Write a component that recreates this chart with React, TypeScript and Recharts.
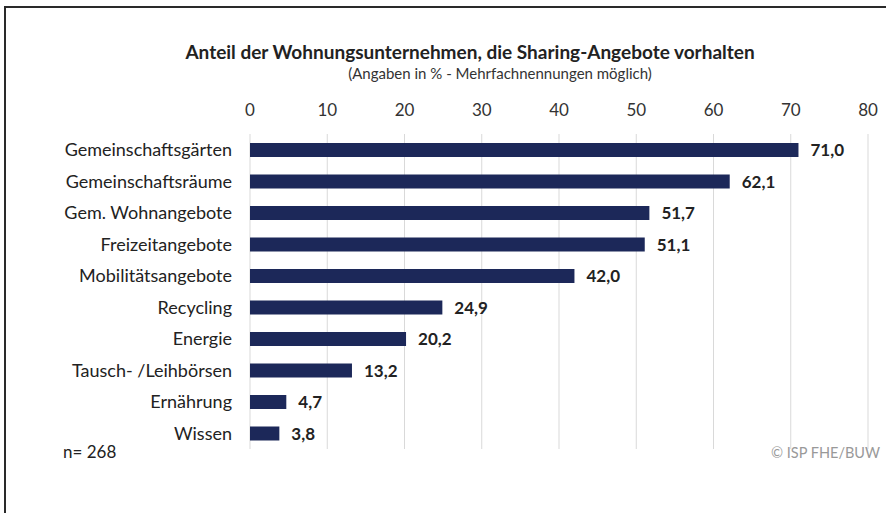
import React from 'react';
import { BarChart, Bar, XAxis, YAxis, CartesianGrid, LabelList } from 'recharts';

const categories = [
  'Gemeinschaftsgärten',
  'Gemeinschaftsräume',
  'Gem. Wohnangebote',
  'Freizeitangebote',
  'Mobilitätsangebote',
  'Recycling',
  'Energie',
  'Tausch- /Leihbörsen',
  'Ernährung',
  'Wissen',
];
const shares = [71.0, 62.1, 51.7, 51.1, 42.0, 24.9, 20.2, 13.2, 4.7, 3.8];
const xTicks = [0, 10, 20, 30, 40, 50, 60, 70, 80];

const font = 'Lato, "Open Sans", sans-serif';

export default function App() {
  const chartData = categories.map((name, i) => ({ name, value: shares[i] }));

  return (
    <div
      style={{
        position: 'relative',
        width: 886,
        height: 513,
        background: '#fff',
        fontFamily: font,
        overflow: 'hidden',
      }}
    >
      <style>{'body{margin:0}'}</style>
      <div
        style={{
          position: 'absolute',
          left: 4,
          top: 6,
          width: 882,
          height: 507,
          borderLeft: '2px solid #2a2a2a',
          borderTop: '2px solid #2a2a2a',
        }}
      />
      <div
        style={{
          position: 'absolute',
          left: 120,
          width: 700,
          top: 40,
          textAlign: 'center',
          fontSize: 19,
          fontWeight: 700,
          color: '#222',
          whiteSpace: 'nowrap',
        }}
      >
        Anteil der Wohnungsunternehmen, die Sharing-Angebote vorhalten
      </div>
      <div
        style={{
          position: 'absolute',
          left: 250,
          width: 500,
          top: 64,
          textAlign: 'center',
          fontSize: 15,
          color: '#333',
          whiteSpace: 'nowrap',
        }}
      >
        (Angaben in % - Mehrfachnennungen möglich)
      </div>

      <BarChart
        width={886}
        height={513}
        data={chartData}
        layout="vertical"
        margin={{ top: 94, right: 18, bottom: 64, left: 10 }}
        barSize={14}
        style={{ position: 'absolute', left: 0, top: 0 }}
      >
        <CartesianGrid horizontal={false} stroke="#d9d9d9" />
        <XAxis
          type="number"
          orientation="top"
          domain={[0, 80]}
          ticks={xTicks}
          height={40}
          axisLine={false}
          tickLine={false}
          tickMargin={12}
          tick={{ fontSize: 17, fill: '#333', fontFamily: font }}
          interval={0}
        />
        <YAxis
          type="category"
          dataKey="name"
          width={240}
          axisLine={false}
          tickLine={false}
          tickMargin={12}
          interval={0}
          tick={{ fontSize: 18, fill: '#222', fontFamily: font }}
        />
        <Bar dataKey="value" fill="#1c2859" isAnimationActive={false}>
          <LabelList
            dataKey="value"
            position="right"
            offset={12}
            formatter={(v: number) => v.toFixed(1).replace('.', ',')}
            style={{ fontSize: 17, fontWeight: 700, fill: '#222', fontFamily: font }}
          />
        </Bar>
      </BarChart>

      <div
        style={{
          position: 'absolute',
          left: 63,
          top: 441,
          fontSize: 17,
          color: '#222',
        }}
      >
        n= 268
      </div>
      <div
        style={{
          position: 'absolute',
          right: 6,
          top: 444,
          fontSize: 14.5,
          color: '#999',
        }}
      >
        © ISP FHE/BUW
      </div>
    </div>
  );
}
